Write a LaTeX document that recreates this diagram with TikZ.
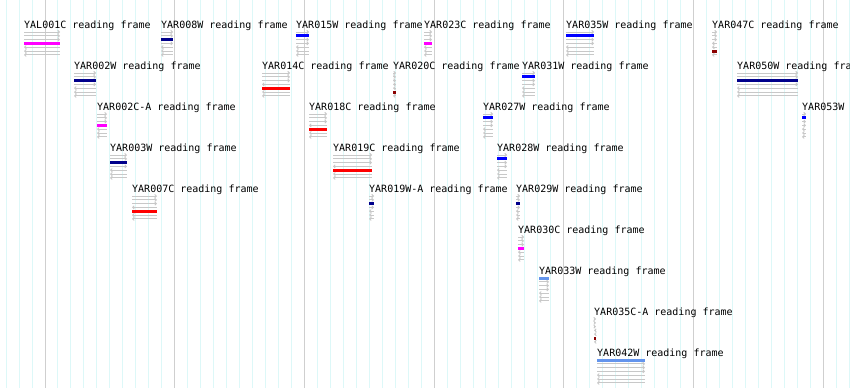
\documentclass[tikz,border=0pt]{standalone}
\usepackage{fontspec}
\setmonofont{DejaVu Sans Mono}
\usetikzlibrary{arrows.meta}

\definecolor{gridcyan}{HTML}{DDF8F8}
\definecolor{gridgray}{HTML}{CFCFCF}
\definecolor{framegray}{HTML}{C8C8C8}
\definecolor{orfnavy}{HTML}{00008B}
\definecolor{orfblue}{HTML}{0000FF}
\definecolor{orfmagenta}{HTML}{FF00FF}
\definecolor{orfred}{HTML}{FF0000}
\definecolor{orfdarkred}{HTML}{8B0000}
\definecolor{orfcorn}{HTML}{6495ED}

\begin{document}
\begin{tikzpicture}[x=1pt,y=-1pt]

  \tikzset{
    orflabel/.style={
      anchor=base west,
      inner sep=0pt,
      font=\ttfamily\fontsize{10}{10}\selectfont
    },
    frameline/.style={draw=framegray, line width=0.9pt},
    fwd/.style={frameline, -{Straight Barb[length=1.6pt,width=3.2pt]}},
    rev/.style={frameline, {Straight Barb[length=1.6pt,width=3.2pt]}-},
    orfbar/.style={line width=3pt}
  }

  \useasboundingbox (0,0) rectangle (850,388);
  \clip (0,0) rectangle (850,388);
  \fill[white] (0,0) rectangle (850,388);

  % grid
  \foreach \i in {-3,...,62}
    \draw[gridcyan, line width=1pt] ({45+12.97*\i},0) -- ({45+12.97*\i},388);
  \foreach \i in {0,...,6}
    \draw[gridgray, line width=1pt] ({45+129.7*\i},0) -- ({45+129.7*\i},388);

  % name / label / x / baseline / length / frame / colour
  \foreach \nm/\lbl/\xx/\bb/\ww/\sl/\cc in {
      yal001c/YAL001C reading frame/24/28/36/3/orfmagenta,
      yar008w/YAR008W reading frame/161/28/12/2/orfnavy,
      yar015w/YAR015W reading frame/296/28/13/1/orfblue,
      yar023c/YAR023C reading frame/424/28/8/3/orfmagenta,
      yar035w/YAR035W reading frame/566/28/28/1/orfblue,
      yar047c/YAR047C reading frame/712/28/5/5/orfdarkred,
      yar002w/YAR002W reading frame/74/69/22/2/orfnavy,
      yar014c/YAR014C reading frame/262/69/28/4/orfred,
      yar020c/YAR020C reading frame/393/69/3/5/orfdarkred,
      yar031w/YAR031W reading frame/522/69/13/1/orfblue,
      yar050w/YAR050W reading fra/737/69/61/2/orfnavy,
      yar002ca/YAR002C-A reading frame/97/110/10/3/orfmagenta,
      yar018c/YAR018C reading frame/309/110/18/4/orfred,
      yar027w/YAR027W reading frame/483/110/10/1/orfblue,
      yar053w/YAR053W/802/110/4/1/orfblue,
      yar003w/YAR003W reading frame/110/151/17/2/orfnavy,
      yar019c/YAR019C reading frame/333/151/39/4/orfred,
      yar028w/YAR028W reading frame/497/151/10/1/orfblue,
      yar007c/YAR007C reading frame/132/192/25/4/orfred,
      yar019wa/YAR019W-A reading frame/369/192/5/2/orfnavy,
      yar029w/YAR029W reading frame/516/192/4/2/orfnavy,
      yar030c/YAR030C reading frame/518/233/6/3/orfmagenta,
      yar033w/YAR033W reading frame/539/274/10/0/orfcorn,
      yar035ca/YAR035C-A reading frame/594/315/2/5/orfdarkred,
      yar042w/YAR042W reading frame/597/356/48/0/orfcorn} {
    \node[orflabel] (\nm) at (\xx,\bb) {\lbl};
    \foreach \k in {0,...,6} {
      \pgfmathsetmacro\yy{\bb+4+3.8*\k}
      \pgfmathtruncatemacro\g{\k<\sl ? \k : \k-1}
      \ifnum\k=\sl
        \draw[orfbar, \cc] (\xx,\yy) -- ++(\ww,0);
      \else
        \ifnum\g<3
          \draw[fwd] (\xx,\yy) -- ++(\ww,0);
        \else
          \draw[rev] (\xx,\yy) -- ++(\ww,0);
        \fi
      \fi
    }
  }

\end{tikzpicture}
\end{document}
